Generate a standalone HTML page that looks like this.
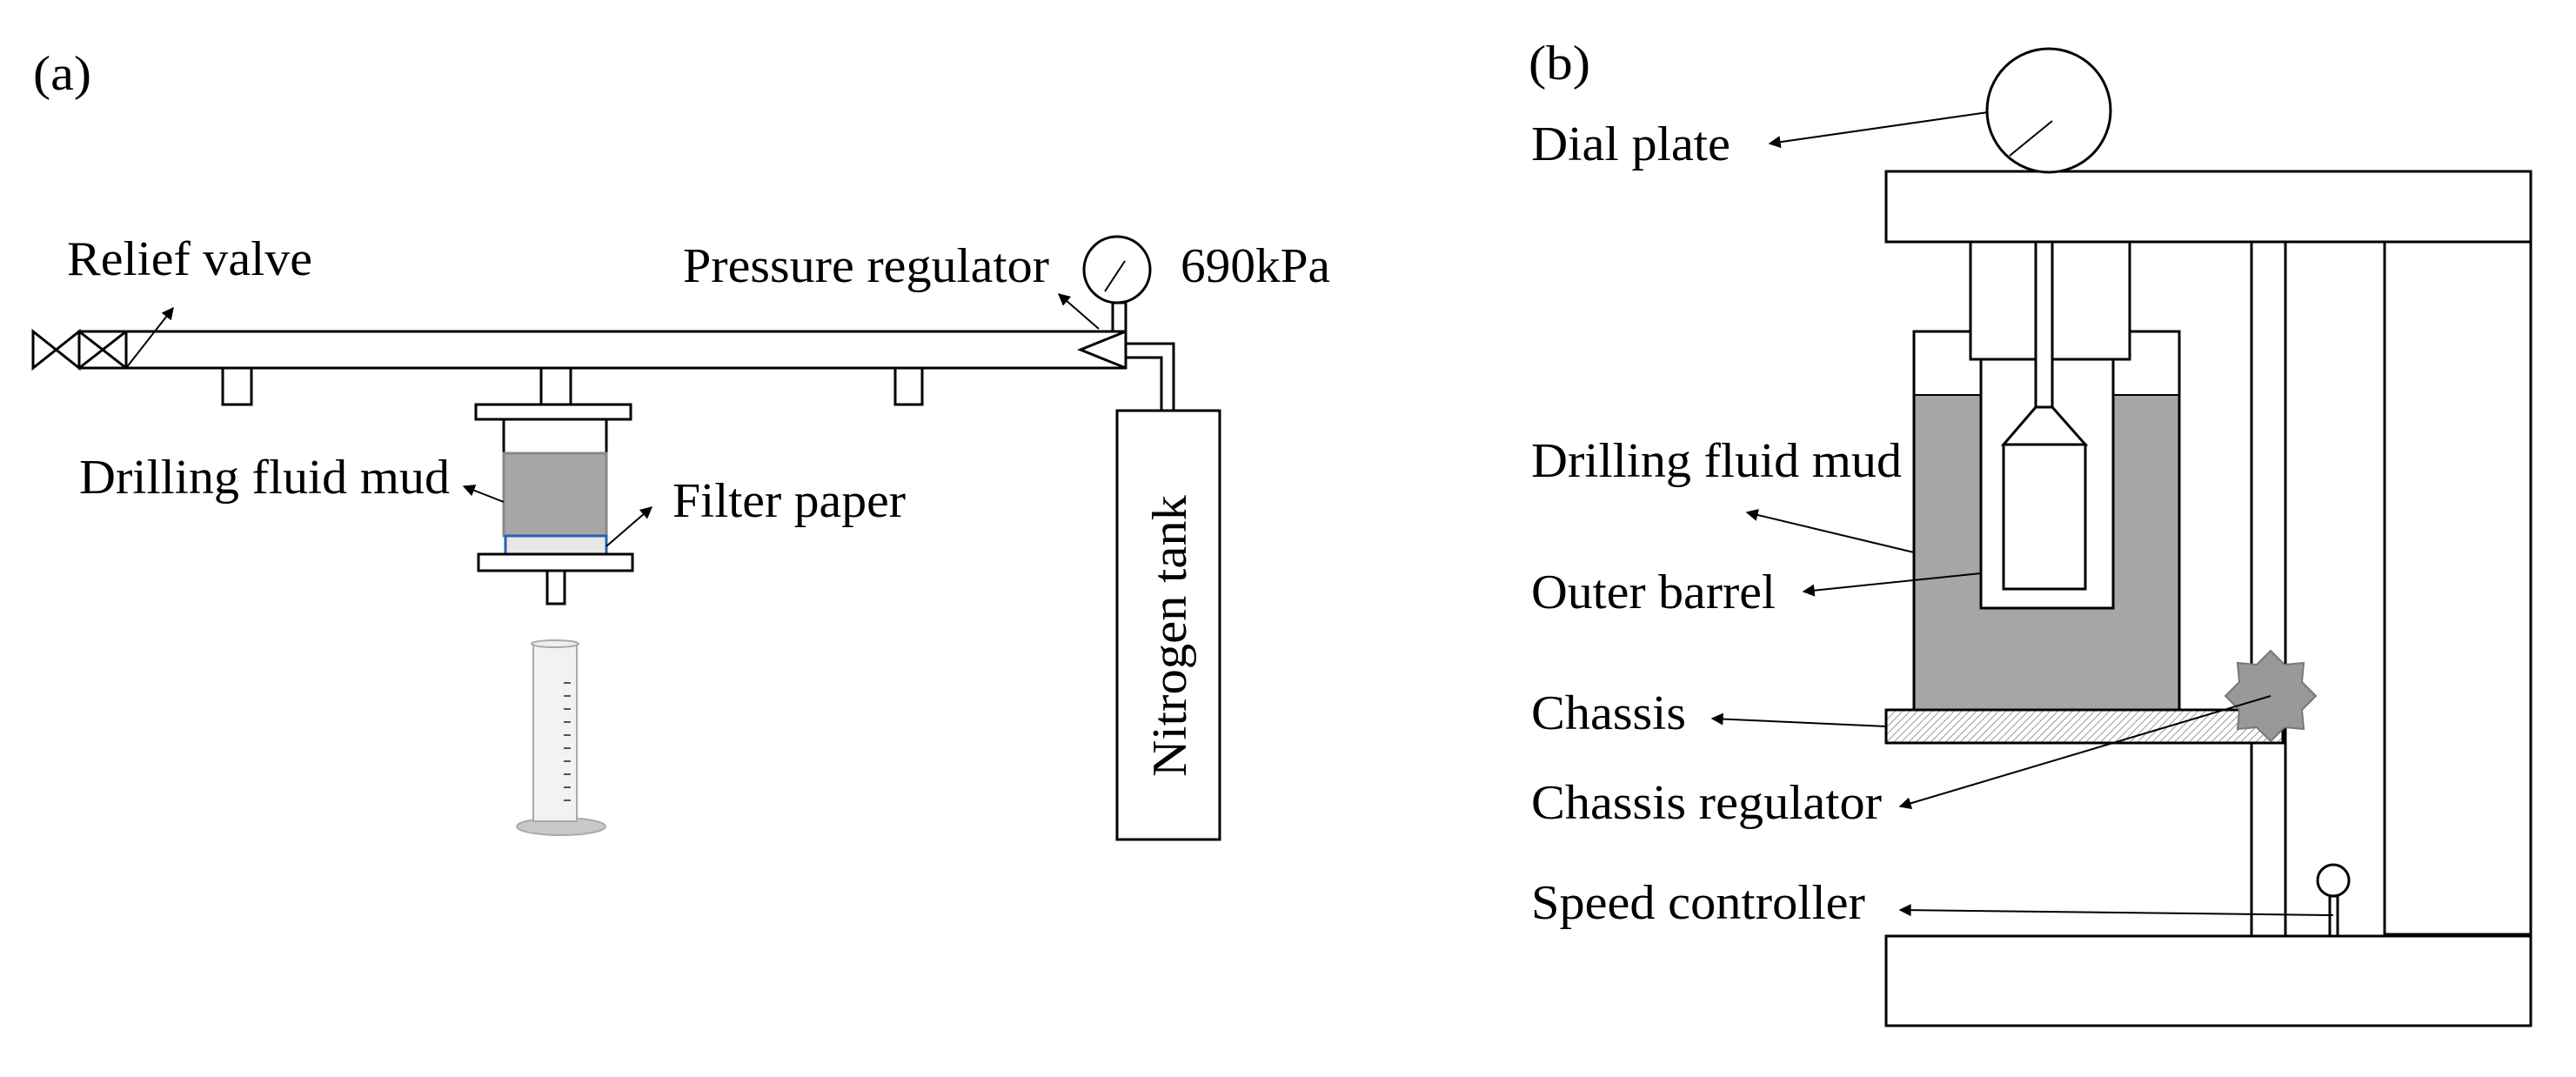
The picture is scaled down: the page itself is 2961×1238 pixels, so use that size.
<!DOCTYPE html>
<html><head><meta charset="utf-8"><style>
html,body{margin:0;padding:0;background:#fff;}
svg{display:block;}
text{font-family:"Liberation Serif",serif;font-size:56px;fill:#000;}
</style></head><body>
<svg width="2961" height="1238" viewBox="0 0 2961 1238" xmlns="http://www.w3.org/2000/svg">
<defs>
<marker id="ar" markerWidth="10" markerHeight="10" refX="9" refY="5" orient="auto" markerUnits="userSpaceOnUse" viewBox="0 0 10 10">
<path d="M0,0 L10,5 L0,10 z" fill="#000"/></marker>
<marker id="ah" viewBox="0 0 10 10" refX="9" refY="5" markerWidth="18" markerHeight="14" orient="auto" markerUnits="userSpaceOnUse">
<path d="M0,0 L10,5 L0,10 z" fill="#000"/></marker>
<pattern id="hatch" width="6" height="6" patternUnits="userSpaceOnUse" patternTransform="rotate(45)">
<rect width="6" height="6" fill="#fff"/><line x1="0" y1="0" x2="0" y2="6" stroke="#999" stroke-width="2"/></pattern>
</defs>
<g stroke="#000" stroke-width="3" fill="none">
<!-- (a) -->
<rect x="91" y="381" width="1203" height="42" fill="#fff"/>
<path d="M38,381 L38,423 L91,381 L91,423 Z"/>
<path d="M91,381 L145,423 M91,423 L145,381 M145,381 L145,423"/>
<path d="M1294,381 L1242,402 L1294,423"/>
<rect x="256" y="423" width="33" height="42"/>
<rect x="622" y="423" width="34" height="42"/>
<rect x="1029" y="423" width="31" height="42"/>
<rect x="547" y="465" width="178" height="17"/>
<rect x="579" y="482" width="118" height="39"/>
<rect x="579" y="521" width="118" height="95" fill="#a6a6a6" stroke="#888"/>
<rect x="581" y="616" width="116" height="21" fill="#e8e8e8" stroke="#2f5fb0"/>
<rect x="550" y="637" width="177" height="19"/>
<rect x="629" y="656" width="20" height="38"/>
<ellipse cx="1284" cy="310" rx="38" ry="38"/>
<line x1="1270" y1="335" x2="1293" y2="300" stroke-width="2"/>
<rect x="1279" y="348" width="15" height="33"/>
<path d="M1294,395 L1349,395 L1349,472 M1294,411 L1335,411 L1335,472"/>
<rect x="1284" y="472" width="118" height="493"/>
<line x1="145" y1="423" x2="199" y2="354" stroke-width="2" marker-end="url(#ah)"/>
<line x1="1263" y1="378" x2="1217" y2="338" stroke-width="2" marker-end="url(#ah)"/>
<line x1="579" y1="577" x2="533" y2="559" stroke-width="2" marker-end="url(#ah)"/>
<line x1="697" y1="628" x2="749" y2="583" stroke-width="2" marker-end="url(#ah)"/>
<!-- graduated cylinder -->
<ellipse cx="645" cy="950" rx="51" ry="10" fill="#c8c8c8" stroke="#aaa" stroke-width="2"/>
<path d="M613,740 L613,944 L663,944 L663,740" fill="#f2f2f2" stroke="#aaa" stroke-width="2"/>
<ellipse cx="638" cy="740" rx="27" ry="4" fill="#eee" stroke="#aaa" stroke-width="2"/>
<g stroke="#555" stroke-width="2">
<line x1="648" y1="785" x2="656" y2="785"/><line x1="648" y1="800" x2="656" y2="800"/><line x1="648" y1="815" x2="656" y2="815"/><line x1="648" y1="830" x2="656" y2="830"/><line x1="648" y1="845" x2="656" y2="845"/><line x1="648" y1="860" x2="656" y2="860"/><line x1="648" y1="875" x2="656" y2="875"/><line x1="648" y1="890" x2="656" y2="890"/><line x1="648" y1="905" x2="656" y2="905"/><line x1="648" y1="920" x2="656" y2="920"/>
</g>
<!-- (b) -->
<rect x="2168" y="197" width="741" height="81" fill="#fff"/>
<rect x="2168" y="1076" width="741" height="103"/>
<path d="M2741,278 L2741,1076 M2909,278 L2909,1076 M2741,1074 L2909,1074"/>
<rect x="2588" y="278" width="39" height="798"/>
<rect x="2200" y="381" width="305" height="435" fill="#fff"/>
<rect x="2201" y="454" width="303" height="362" fill="#a6a6a6" stroke="none"/>
<line x1="2200" y1="454" x2="2505" y2="454" stroke-width="2"/>
<rect x="2200" y="381" width="305" height="435"/>
<rect x="2277" y="413" width="152" height="286" fill="#fff"/>
<rect x="2265" y="278" width="183" height="135" fill="#fff"/>
<rect x="2340" y="278" width="19" height="190" fill="#fff"/>
<path d="M2340,468 L2303,511 L2397,511 L2359,468 Z" fill="#fff"/>
<rect x="2303" y="511" width="94" height="166" fill="#fff"/>
<rect x="2168" y="816" width="456" height="38" fill="url(#hatch)"/>
<ellipse cx="2355" cy="127" rx="71" ry="71" fill="#fff"/>
<line x1="2310" y1="179" x2="2359" y2="139" stroke-width="2"/>
<polygon points="2610,748 2626,764 2648,762 2646,784 2662,800 2646,816 2648,838 2626,836 2610,852 2594,836 2572,838 2574,816 2558,800 2574,784 2572,762 2594,764" fill="#999" stroke="#777" stroke-width="2"/>
<circle cx="2682" cy="1012" r="18" fill="#fff"/>
<rect x="2678" y="1030" width="9" height="46" fill="#fff"/>
<line x1="2285" y1="129" x2="2034" y2="165" stroke-width="2" marker-end="url(#ah)"/>
<line x1="2200" y1="635" x2="2008" y2="589" stroke-width="2" marker-end="url(#ah)"/>
<line x1="2277" y1="659" x2="2073" y2="680" stroke-width="2" marker-end="url(#ah)"/>
<line x1="2168" y1="835" x2="1968" y2="826" stroke-width="2" marker-end="url(#ah)"/>
<line x1="2610" y1="800" x2="2184" y2="927" stroke-width="2" marker-end="url(#ah)"/>
<line x1="2682" y1="1052" x2="2184" y2="1046" stroke-width="2" marker-end="url(#ah)"/>
</g>
<g>
<text x="38" y="103" textLength="67" lengthAdjust="spacingAndGlyphs">(a)</text>
<text x="77" y="316" textLength="282" lengthAdjust="spacingAndGlyphs">Relief valve</text>
<text x="785" y="324" textLength="421" lengthAdjust="spacingAndGlyphs">Pressure regulator</text>
<text x="1357" y="324" textLength="172" lengthAdjust="spacingAndGlyphs">690kPa</text>
<text x="91" y="567" textLength="426" lengthAdjust="spacingAndGlyphs">Drilling fluid mud</text>
<text x="773" y="594" textLength="268" lengthAdjust="spacingAndGlyphs">Filter paper</text>
<text x="0" y="0" transform="translate(1363,893) rotate(-90)" textLength="324" lengthAdjust="spacingAndGlyphs">Nitrogen tank</text>
<text x="1757" y="91" textLength="71" lengthAdjust="spacingAndGlyphs">(b)</text>
<text x="1760" y="184" textLength="229" lengthAdjust="spacingAndGlyphs">Dial plate</text>
<text x="1760" y="548" textLength="426" lengthAdjust="spacingAndGlyphs">Drilling fluid mud</text>
<text x="1760" y="699" textLength="281" lengthAdjust="spacingAndGlyphs">Outer barrel</text>
<text x="1760" y="838" textLength="178" lengthAdjust="spacingAndGlyphs">Chassis</text>
<text x="1760" y="941" textLength="403" lengthAdjust="spacingAndGlyphs">Chassis regulator</text>
<text x="1760" y="1056" textLength="384" lengthAdjust="spacingAndGlyphs">Speed controller</text>
</g>
</svg>
</body></html>
